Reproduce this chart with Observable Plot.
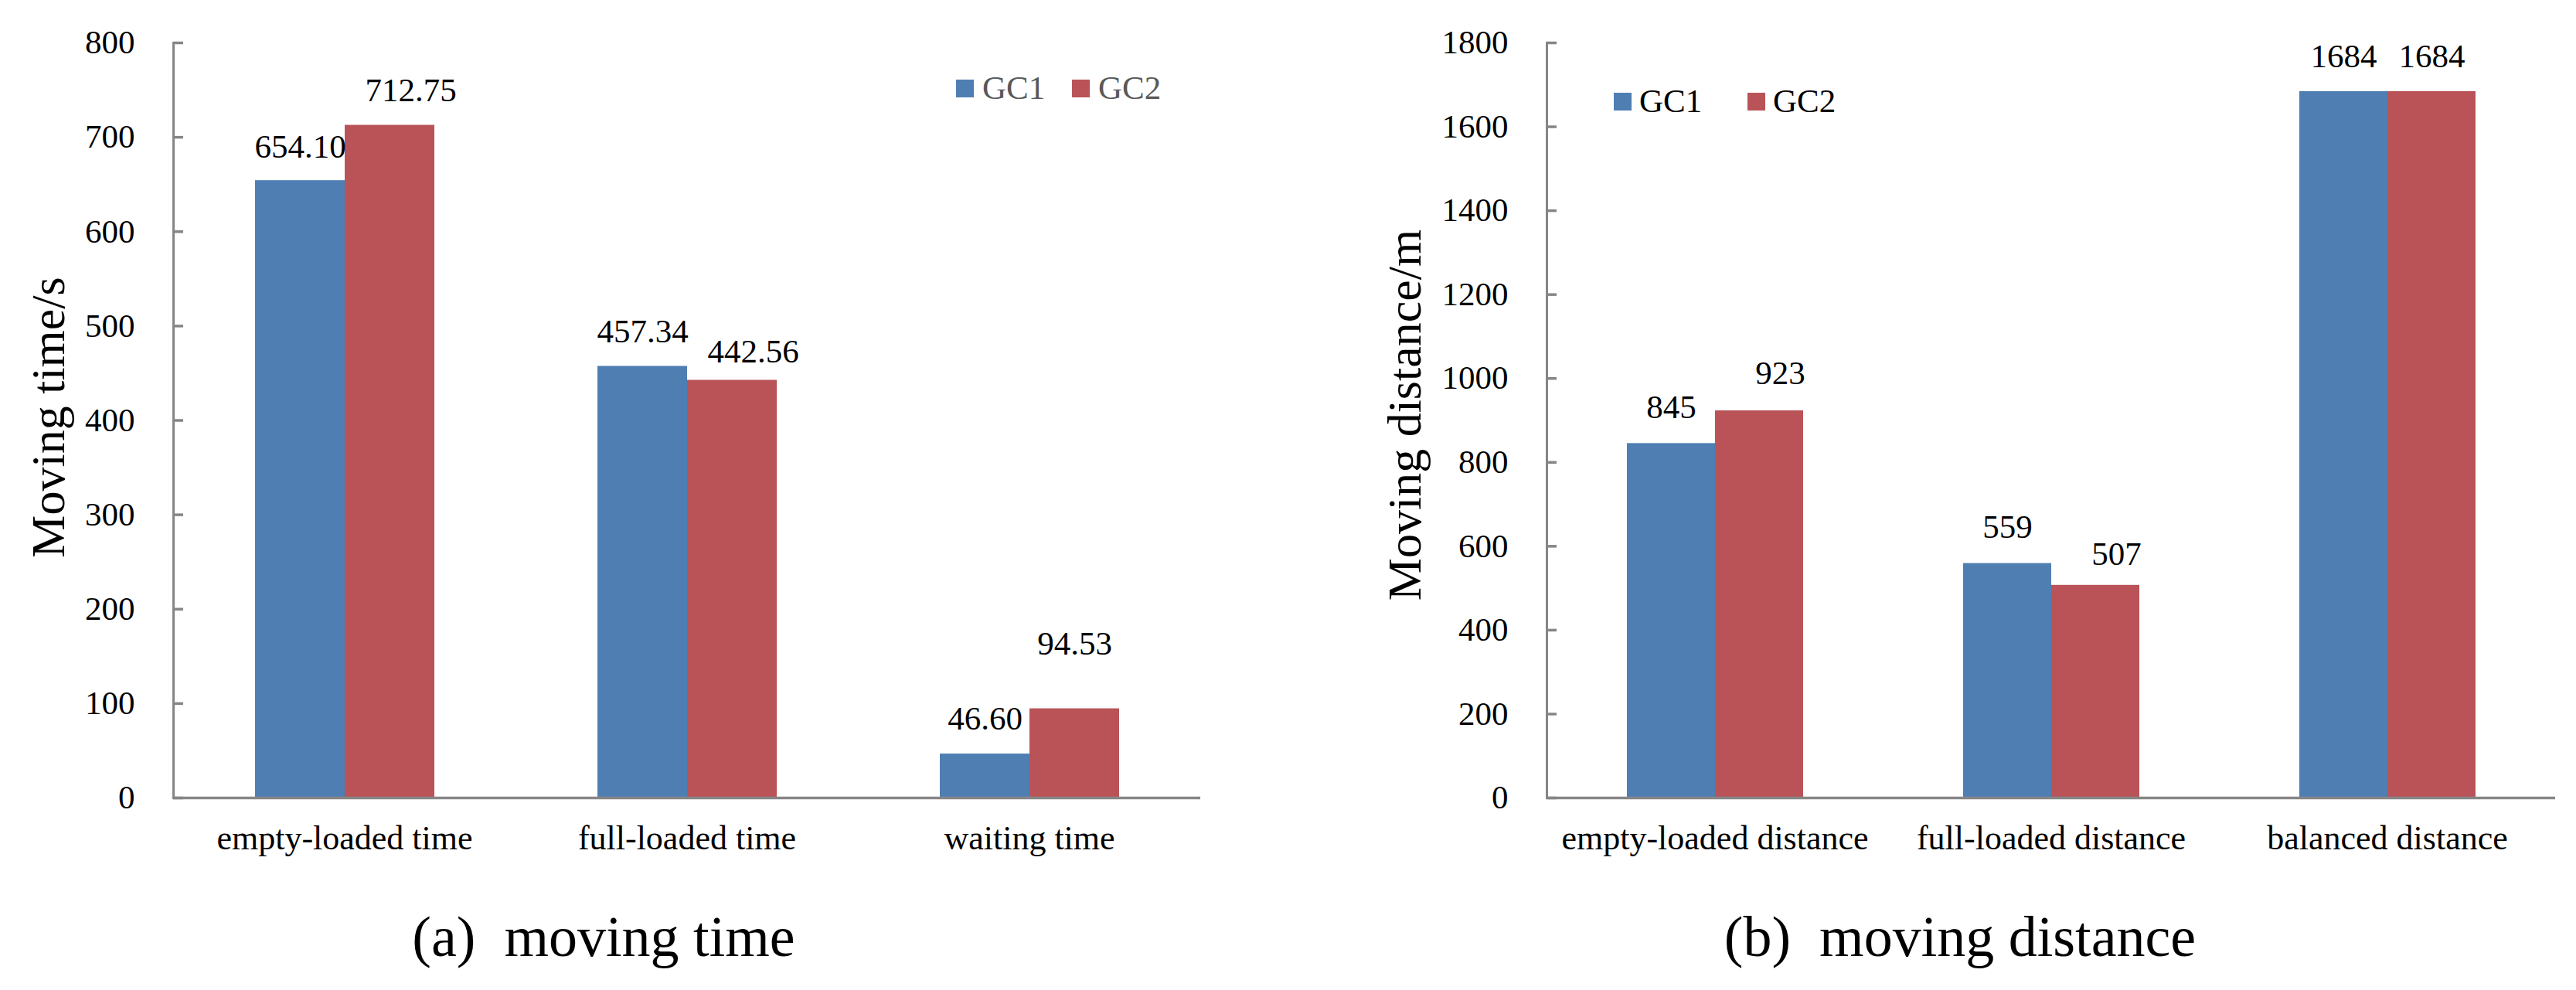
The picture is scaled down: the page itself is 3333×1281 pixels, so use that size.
<!DOCTYPE html>
<html>
<head>
<meta charset="utf-8">
<script src="https://cdn.jsdelivr.net/npm/d3@7"></script>
<script src="https://cdn.jsdelivr.net/npm/@observablehq/plot@0.6"></script>
<style>
  html, body { margin: 0; padding: 0; background: #fff; }
  #root { position: relative; width: 3333px; height: 1281px; overflow: hidden; font-family: "Liberation Serif", "Times New Roman", serif; color: #000; }
  #root svg, #root svg text { font-family: "Liberation Serif", "Times New Roman", serif !important; }
  .abs { position: absolute; white-space: pre; line-height: 1; }
  .ytitle { font-size: 62px; transform: translate(-50%, -50%) rotate(-90deg); }
  .caption { font-size: 74px; transform: translateX(-50%); }
  .sw { position: absolute; width: 23px; height: 23px; }
  .lg { position: absolute; font-size: 43px; line-height: 1; white-space: pre; }
</style>
</head>
<body>
<div id="root">
  <div id="chartA" class="abs" style="left:0;top:0;width:1666px;height:1130px"></div>
  <div id="chartB" class="abs" style="left:1666px;top:0;width:1667px;height:1130px"></div>

  <div class="abs ytitle" style="left:62px;top:540px">Moving time/s</div>
  <div class="abs ytitle" style="left:1817px;top:537px">Moving distance/m</div>

  <div class="abs caption" style="left:781px;top:1175px">(a)  moving time</div>
  <div class="abs caption" style="left:2536px;top:1175px">(b)  moving distance</div>

  <div id="legendA"></div>
  <div id="legendB"></div>
</div>
<script>
// ---------- data ----------
const series = ["GC1", "GC2"];

const categoriesA = ["empty-loaded time", "full-loaded time", "waiting time"];
const gc1A = [654.10, 457.34, 46.60];
const gc2A = [712.75, 442.56, 94.53];
const yTicksA = [0, 100, 200, 300, 400, 500, 600, 700, 800];

const categoriesB = ["empty-loaded distance", "full-loaded distance", "balanced distance"];
const gc1B = [845, 559, 1684];
const gc2B = [923, 507, 1684];
const yTicksB = [0, 200, 400, 600, 800, 1000, 1200, 1400, 1600, 1800];

// label nudges (layout only), per [category][series] : [dx, dy]
const nudgeA = [[[0, 2], [27, 0]], [[0, 0], [27, 8]], [[0, 0], [0, -39]]];
const nudgeB = [[[0, -2], [27, -3]], [[0, -2], [27, 5]], [[0, 0], [0, 0]]];

// ---------- styles ----------
const FONT = '"Liberation Serif", "Times New Roman", serif';
const BLUE = "#4F7EB3";
const RED = "#B95358";
const GRAY = "#868686";

function buildRows(categories, s1, s2) {
  const rows = [];
  categories.forEach((c, i) => {
    rows.push({category: c, series: series[0], value: s1[i], ci: i, si: 0});
    rows.push({category: c, series: series[1], value: s2[i], ci: i, si: 1});
  });
  return rows;
}

function makeChart({categories, s1, s2, ticks, fmt, nudge, width, marginLeft, marginRight}) {
  const rows = buildRows(categories, s1, s2);
  const labels = rows.map(r => Plot.text([r], {
    fx: "category", x: "series", y: "value",
    text: d => fmt(d.value),
    dx: nudge[r.ci][r.si][0],
    dy: -45 + nudge[r.ci][r.si][1],
    fontSize: 43, fontFamily: FONT, fill: "#000"
  }));
  return Plot.plot({
    width, height: 1130,
    marginLeft, marginRight, marginTop: 55, marginBottom: 98,
    style: `font-family: ${FONT}; font-size: 43px; color: #000; background: transparent; overflow: visible;`,
    fx: {domain: categories, padding: 0, label: null},
    x: {domain: series, paddingInner: 0, paddingOuter: 0.9, axis: null},
    y: {domain: [ticks[0], ticks[ticks.length - 1]], label: null},
    color: {domain: series, range: [BLUE, RED]},
    marks: [
      Plot.barY(rows, {fx: "category", x: "series", y: "value", fill: "series"}),
      Plot.ruleY([0], {stroke: GRAY, strokeWidth: 3.5}),
      Plot.frame({anchor: "left", facetAnchor: "left", stroke: GRAY, strokeWidth: 3}),
      Plot.axisY(ticks, {anchor: "left", tickSize: -13, tickPadding: 63, tickFormat: d3.format("d"), stroke: GRAY, strokeWidth: 3.5, fill: "#000", label: null, fontSize: 43, fontFamily: FONT}),
      Plot.axisFx({anchor: "bottom", tickSize: 0, tickPadding: 35, label: null, fontSize: 44, fontFamily: FONT, fill: "#000"}),
      ...labels
    ]
  });
}

document.getElementById("chartA").appendChild(makeChart({
  categories: categoriesA, s1: gc1A, s2: gc2A, ticks: yTicksA,
  fmt: d3.format(".2f"), nudge: nudgeA, width: 1666, marginLeft: 224, marginRight: 113
}));
document.getElementById("chartB").appendChild(makeChart({
  categories: categoriesB, s1: gc1B, s2: gc2B, ticks: yTicksB,
  fmt: d3.format("d"), nudge: nudgeB, width: 1667, marginLeft: 334, marginRight: 27
}));

// ---------- legends ----------
function legend(el, items, color) {
  items.forEach(it => {
    const sw = document.createElement("div");
    sw.className = "sw";
    sw.style.left = it.sx + "px"; sw.style.top = it.sy + "px"; sw.style.background = it.fill;
    el.appendChild(sw);
    const t = document.createElement("div");
    t.className = "lg";
    t.style.left = it.tx + "px"; t.style.top = it.ty + "px"; t.style.color = color;
    t.textContent = it.name;
    el.appendChild(t);
  });
}
legend(document.getElementById("legendA"), [
  {name: series[0], fill: BLUE, sx: 1237, sy: 103, tx: 1271, ty: 92},
  {name: series[1], fill: RED, sx: 1387, sy: 103, tx: 1421, ty: 92}
], "#595959");
legend(document.getElementById("legendB"), [
  {name: series[0], fill: BLUE, sx: 2088, sy: 120, tx: 2121, ty: 109},
  {name: series[1], fill: RED, sx: 2261, sy: 120, tx: 2294, ty: 109}
], "#000");
</script>
</body>
</html>
